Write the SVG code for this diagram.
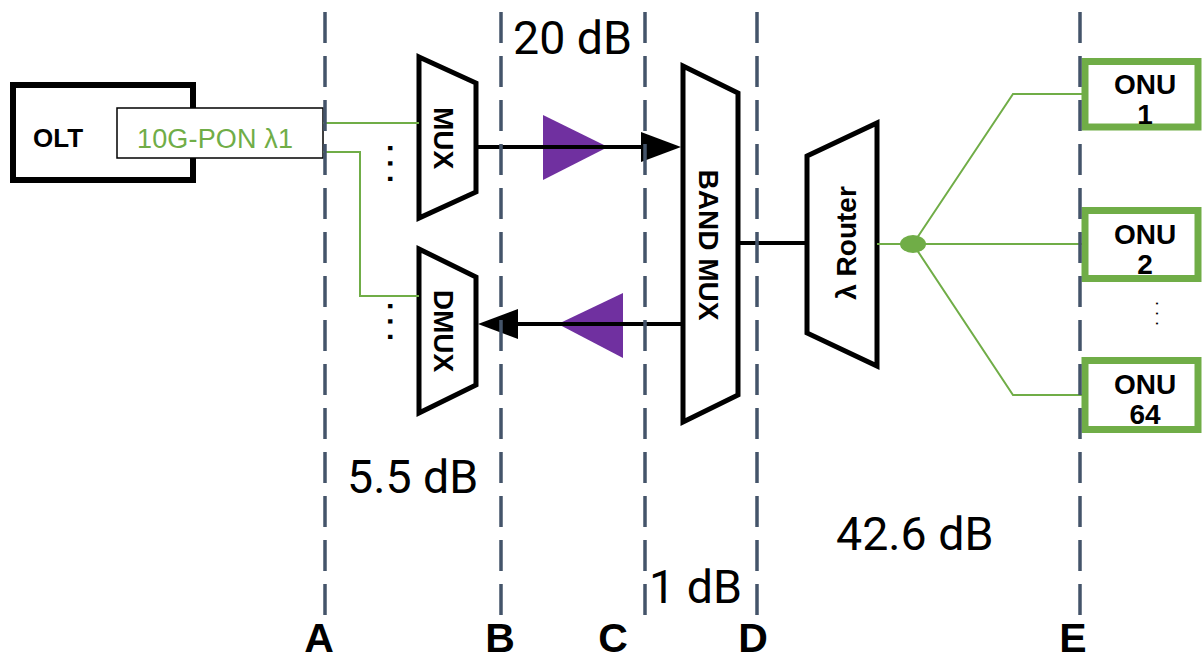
<svg xmlns="http://www.w3.org/2000/svg" width="1203" height="661" viewBox="0 0 1203 661">
<style>
.blk{fill:#fff;stroke:#000;stroke-width:5;stroke-linejoin:miter}
.lbl{font-family:"Liberation Sans",Arial,sans-serif;font-weight:bold;font-size:28px;fill:#000}
.db{font-family:Roboto,"Liberation Sans",sans-serif;font-size:46.5px;fill:#000}
.let{font-family:"Liberation Sans Narrow","Liberation Sans",sans-serif;font-weight:bold;font-size:41px;fill:#000;text-anchor:middle}
.grn{fill:none;stroke:#70ad47;stroke-width:2}
.onu{fill:#fff;stroke:#70ad47;stroke-width:7}
.onut{font-family:"Liberation Sans",Arial,sans-serif;font-weight:bold;font-size:28px;fill:#000;text-anchor:middle}
.dash{stroke:#44546a;stroke-width:3.5;stroke-dasharray:31 13;fill:none}
.amp{fill:#7030a0}
.wire{stroke:#000;stroke-width:4;fill:none}
</style>
<rect width="1203" height="661" fill="#fff"/>

<g id="olt">
<rect x="13" y="85" width="180" height="95" fill="#fff" stroke="#000" stroke-width="6"/>
<text x="33" y="147" font-family="Liberation Sans,Arial,sans-serif" font-weight="bold" font-size="26">OLT</text>
</g>
<g id="pon">
<rect x="117" y="108" width="206" height="50" fill="#fff" stroke="#000" stroke-width="1.5"/>
<text x="137" y="148" font-family="Liberation Sans,Arial,sans-serif" font-size="27" fill="#70ad47" textLength="156">10G-PON λ1</text>
</g>

<g id="mux">
<polygon class="blk" points="419,57 476,83 476,192 419,218"/>
<text class="lbl" transform="translate(443,138) rotate(90)" text-anchor="middle" dominant-baseline="central">MUX</text>
<text transform="translate(388,144) rotate(90)" font-family="Liberation Sans,Arial,sans-serif" font-weight="bold" font-size="30" letter-spacing="7">...</text>
</g>
<g id="dmux">
<polygon class="blk" points="419,249 476,277 476,385 419,413"/>
<text class="lbl" transform="translate(443,331) rotate(90)" text-anchor="middle" dominant-baseline="central">DMUX</text>
<text transform="translate(388,302) rotate(90)" font-family="Liberation Sans,Arial,sans-serif" font-weight="bold" font-size="30" letter-spacing="7">...</text>
</g>

<g id="amp-up"><polygon class="amp" points="543,115 543,180 608,147"/></g>
<g id="amp-down"><polygon class="amp" points="623,293 623,358 558,324"/></g>

<g id="bandmux">
<polygon class="blk" points="683,66 738,93 738,395 683,422"/>
<text class="lbl" transform="translate(708,245) rotate(90)" text-anchor="middle" dominant-baseline="central">BAND MUX</text>
</g>

<g id="router">
<polygon class="blk" points="807,156 877,123 877,366 807,333"/>
<text class="lbl" transform="translate(846,243) rotate(-90)" text-anchor="middle" dominant-baseline="central">λ Router</text>
</g>

<g id="connectors">
<polyline class="grn" points="323,123 419,123"/>
<polyline class="grn" points="323,152 360,152 360,296 419,296"/>
<line class="wire" x1="478" y1="147" x2="645" y2="147"/>
<polygon points="641,132 681,147 641,162" fill="#000"/>
<line class="wire" x1="515" y1="324" x2="683" y2="324"/>
<polygon points="518,309 478,324 518,339" fill="#000"/>
<line class="wire" x1="738" y1="243" x2="807" y2="243"/>
<line class="grn" x1="877" y1="244" x2="913" y2="244"/>
<polyline class="grn" points="913,244 1013,94 1083,94"/>
<polyline class="grn" points="913,244 1083,244"/>
<polyline class="grn" points="913,244 1013,395 1083,395"/>
<ellipse cx="913" cy="244" rx="13" ry="9" fill="#70ad47"/>
</g>

<g id="onu1">
<rect class="onu" x="1085" y="61.5" width="113" height="65.5"/>
<text class="onut" x="1145" y="94">ONU</text>
<text class="onut" x="1145" y="124">1</text>
</g>
<g id="onu2">
<rect class="onu" x="1085" y="210.5" width="113" height="68"/>
<text class="onut" x="1145" y="244">ONU</text>
<text class="onut" x="1145" y="274">2</text>
</g>
<g id="onu64">
<rect class="onu" x="1085" y="360.5" width="113" height="69"/>
<text class="onut" x="1145" y="394">ONU</text>
<text class="onut" x="1145" y="424">64</text>
</g>
<text transform="translate(1156,301) rotate(90)" font-family="Liberation Sans,Arial,sans-serif" font-size="18" letter-spacing="5">...</text>

<g id="refs">
<line class="dash" x1="325" y1="12" x2="325" y2="616"/>
<line class="dash" x1="501" y1="12" x2="501" y2="616"/>
<line class="dash" x1="645" y1="12" x2="645" y2="616"/>
<line class="dash" x1="757" y1="12" x2="757" y2="616"/>
<line class="dash" x1="1080" y1="12" x2="1080" y2="616"/>
</g>

<text class="db" x="513" y="54">20 dB</text>
<text class="db" x="347" y="493">5.5 dB</text>
<text class="db" x="649" y="603">1 dB</text>
<text class="db" x="836" y="550">42.6 dB</text>

<text class="let" x="319" y="652">A</text>
<text class="let" x="500" y="652">B</text>
<text class="let" x="613" y="652">C</text>
<text class="let" x="753" y="652">D</text>
<text class="let" x="1073" y="652">E</text>
</svg>
